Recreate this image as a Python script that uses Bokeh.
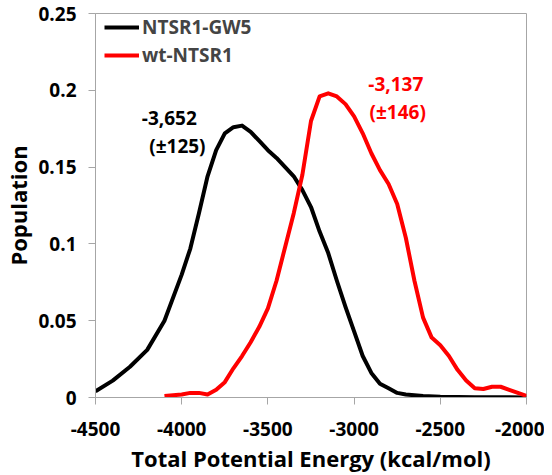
from bokeh.plotting import figure
from bokeh.models import (ColumnDataSource, FixedTicker, Legend, LegendItem, Range1d)
from bokeh.core.properties import value
from bokeh.embed import file_html
from bokeh.resources import INLINE

# ---- data ----
gw5_energy = [-4500, -4400, -4300, -4200, -4100, -4000, -3950, -3900, -3850, -3800,
              -3750, -3700, -3650, -3600, -3550, -3500, -3450, -3400, -3350, -3300,
              -3250, -3200, -3150, -3100, -3050, -3000, -2950, -2900, -2850, -2800,
              -2750, -2700, -2600, -2500, -2400, -2300, -2200, -2100, -2000]
gw5_pop = [0.004, 0.011, 0.020, 0.031, 0.050, 0.080, 0.097, 0.120, 0.144, 0.161,
           0.172, 0.176, 0.177, 0.173, 0.167, 0.161, 0.156, 0.150, 0.144, 0.135,
           0.124, 0.108, 0.094, 0.076, 0.059, 0.043, 0.027, 0.016, 0.009, 0.006,
           0.003, 0.002, 0.001, 0.0005, 0.0003, 0.0002, 0.0001, 0.0001, 0.0]

wt_energy = [-4100, -4000, -3950, -3900, -3850, -3800, -3750, -3700, -3650, -3600,
             -3550, -3500, -3450, -3400, -3350, -3300, -3250, -3200, -3150, -3100,
             -3050, -3000, -2950, -2900, -2850, -2800, -2750, -2700, -2650, -2600,
             -2550, -2500, -2450, -2400, -2350, -2300, -2250, -2200, -2150, -2100,
             -2050, -2000]
wt_pop = [0.001, 0.002, 0.003, 0.003, 0.002, 0.005, 0.010, 0.019, 0.027, 0.036,
          0.046, 0.058, 0.076, 0.098, 0.120, 0.145, 0.180, 0.196, 0.198, 0.196,
          0.191, 0.183, 0.172, 0.159, 0.148, 0.139, 0.126, 0.104, 0.076, 0.052,
          0.039, 0.034, 0.027, 0.018, 0.011, 0.006, 0.0055, 0.007, 0.007, 0.005,
          0.003, 0.001]

series_names = ["NTSR1-GW5", "wt-NTSR1"]
series_colors = ["#000000", "#ff0000"]

ann_x = [-4072, -4025, -2758, -2747]
ann_y = [0.182, 0.164, 0.204, 0.186]
ann_text = ["-3,652", "(\u00b1125)", "-3,137", "(\u00b1146)"]
ann_color = ["#000000", "#000000", "#ff0000", "#ff0000"]

x_ticks = [-4500, -4000, -3500, -3000, -2500, -2000]
x_tick_labels = ["-4500", "-4000", "-3500", "-3000", "-2500", "-2000"]
y_ticks = [0, 0.05, 0.1, 0.15, 0.2, 0.25]
y_tick_labels = ["0", "0.05", "0.1", "0.15", "0.2", "0.25"]

FONT = "Open Sans"
GRAY = "#a6a6a6"

p = figure(width=544, height=475, output_backend="svg", toolbar_location=None,
           x_range=Range1d(-4500, -2000), y_range=Range1d(0, 0.25),
           min_border_left=95, min_border_right=18, min_border_top=13,
           min_border_bottom=75)
p.xgrid.visible = False
p.ygrid.visible = False
p.outline_line_color = GRAY
p.outline_line_width = 1
p.background_fill_color = "white"
p.border_fill_color = "white"

r1 = p.line(gw5_energy, gw5_pop, line_color=series_colors[0], line_width=4,
            line_join="round")
r2 = p.line(wt_energy, wt_pop, line_color=series_colors[1], line_width=4,
            line_join="round")

src = ColumnDataSource(dict(x=ann_x, y=ann_y, t=ann_text, c=ann_color))
p.text(x="x", y="y", text="t", text_color="c", source=src,
       text_font=value(FONT), text_font_style="bold", text_font_size="19px",
       text_align="center", text_baseline="middle")

for ax in (p.xaxis[0], p.yaxis[0]):
    ax.axis_line_color = GRAY
    ax.major_tick_line_color = GRAY
    ax.major_tick_out = 7
    ax.major_tick_in = 0
    ax.minor_tick_line_color = None
    ax.major_label_text_font = FONT
    ax.major_label_text_font_style = "bold"
    ax.major_label_text_font_size = "19px"
    ax.major_label_text_color = "black"
    ax.axis_label_text_font = FONT
    ax.axis_label_text_font_style = "bold"
    ax.axis_label_text_font_size = "22px"
    ax.axis_label_text_color = "black"

p.xaxis[0].ticker = FixedTicker(ticks=x_ticks)
p.xaxis[0].major_label_overrides = dict(zip(x_ticks, x_tick_labels))
p.xaxis[0].axis_label = "Total Potential Energy (kcal/mol)"
p.xaxis[0].major_label_standoff = 17
p.xaxis[0].axis_label_standoff = 4

p.yaxis[0].ticker = FixedTicker(ticks=y_ticks)
p.yaxis[0].major_label_overrides = dict(zip(y_ticks, y_tick_labels))
p.yaxis[0].axis_label = "Population"
p.yaxis[0].major_label_standoff = 12
p.yaxis[0].axis_label_standoff = 2

legend = Legend(items=[LegendItem(label=series_names[0], renderers=[r1]),
                       LegendItem(label=series_names[1], renderers=[r2])],
                location="top_left", margin=0, padding=0, spacing=2,
                glyph_width=35, label_standoff=3,
                label_text_font=FONT, label_text_font_style="bold",
                label_text_font_size="19px",
                border_line_color=None, background_fill_alpha=0)
legend.location = (9, 329)
p.add_layout(legend)

open("out.html", "w").write(file_html(p, INLINE))
